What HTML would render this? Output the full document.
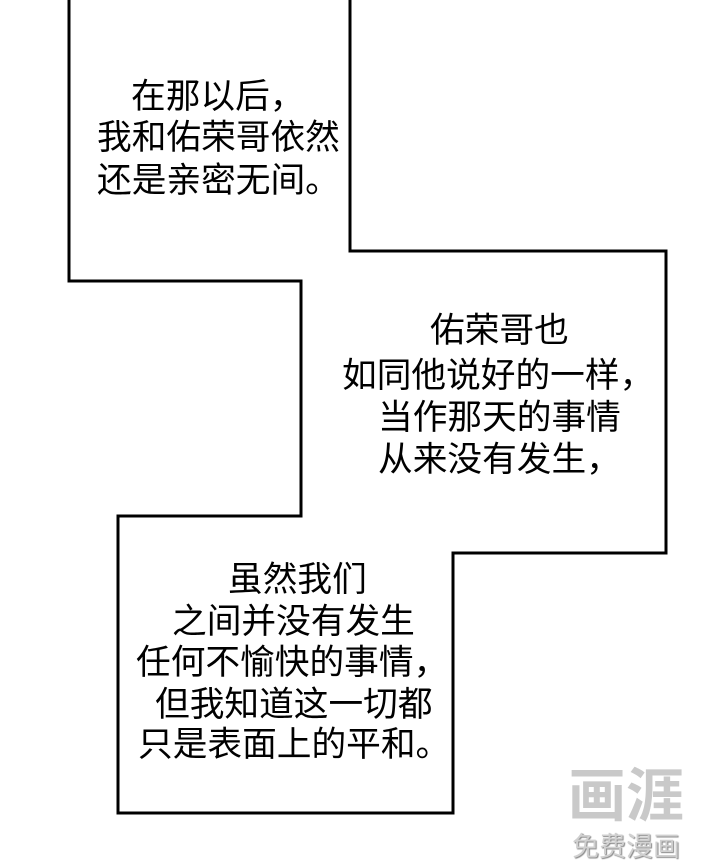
<!DOCTYPE html>
<html><head><meta charset="utf-8"><style>
body{margin:0;width:720px;height:868px;background:#fff;position:relative;overflow:hidden;font-family:"Liberation Sans","Noto Sans CJK SC",sans-serif}
.t{position:absolute;font-size:34.7px;line-height:40px;white-space:nowrap;color:#000}
</style></head><body>
<svg width="720" height="868" style="position:absolute;left:0;top:0">
<polyline points="69,0 69,281 301,281 301,516 118,516 118,813 453,813 453,553 666,553 666,251 350,251 350,0" fill="none" stroke="#000" stroke-width="3"/>
</svg>
<div class="t" style="left:131px;top:77px">在那以后，</div>
<div class="t" style="left:97px;top:118px">我和佑荣哥依然</div>
<div class="t" style="left:97px;top:161px">还是亲密无间。</div>
<div class="t" style="left:430px;top:311px">佑荣哥也</div>
<div class="t" style="left:342px;top:356px">如同他说好的一样，</div>
<div class="t" style="left:378px;top:398px">当作那天的事情</div>
<div class="t" style="left:378px;top:440px">从来没有发生，</div>
<div class="t" style="left:228px;top:560px">虽然我们</div>
<div class="t" style="left:172px;top:602px">之间并没有发生</div>
<div class="t" style="left:136px;top:643px">任何不愉快的事情，</div>
<div class="t" style="left:155px;top:685px">但我知道这一切都</div>
<div class="t" style="left:138px;top:725px">只是表面上的平和。</div>
<div class="t" style="left:568px;top:765px;font-size:58px;line-height:64px;color:#c9c9c9;font-weight:bold">画涯</div>
<div class="t" style="left:572px;top:832px;font-size:27px;line-height:30px;color:#d0d0d0;text-shadow:1px 1px 1px #888">免费漫画</div>
</body></html>
